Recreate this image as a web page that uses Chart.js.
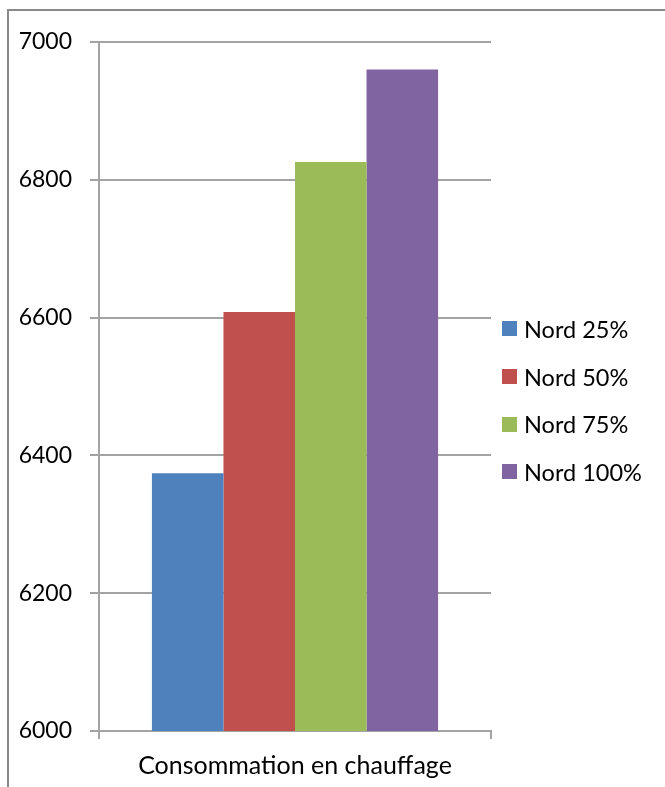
<!DOCTYPE html>
<html>
<head>
<meta charset="utf-8">
<script src="https://cdn.jsdelivr.net/npm/chart.js@4.4.1/dist/chart.umd.min.js"></script>
<style>
    html, body { margin: 0; padding: 0; background: #fff; overflow: hidden; }
    body { width: 665px; height: 787px; position: relative; }
    .frame {
        position: absolute; left: 7px; top: 9px;
        width: 700px; height: 800px;
        border: 2px solid #8a8a8a;
    }
    #chart { position: absolute; left: 0; top: 0; }
    .legend {
        position: absolute; left: 502px; top: 305px;
        margin: 0; padding: 0; list-style: none;
        font-family: Lato, sans-serif; font-size: 23.5px; color: #000;
    }
    .legend li { display: flex; align-items: center; height: 47.7px; }
    .legend span.box { width: 15px; height: 15px; margin-right: 7px; }
</style>
</head>
<body>
<div class="frame"></div>
<canvas id="chart" width="665" height="787"></canvas>
<ul class="legend" id="legend"></ul>
<script>
// Chart data
const categories = ['Consommation en chauffage'];
const seriesLabels = ['Nord 25%', 'Nord 50%', 'Nord 75%', 'Nord 100%'];
const seriesValues = [[6374], [6608], [6826], [6960]];
const seriesColors = ['#4f81bd', '#c0504d', '#9bbb59', '#8064a2'];
const yTicks = [6000, 6200, 6400, 6600, 6800, 7000];

const gridColor = '#a3a3a3';

document.addEventListener('DOMContentLoaded', function() {
    const ctx = document.getElementById('chart').getContext('2d');
    const chart = new Chart(ctx, {
        type: 'bar',
        data: {
            labels: categories,
            datasets: seriesLabels.map((label, i) => ({
                label: label,
                data: seriesValues[i],
                backgroundColor: seriesColors[i],
                borderWidth: 0,
                categoryPercentage: 0.73,
                barPercentage: 1
            }))
        },
        options: {
            responsive: false,
            animation: false,
            layout: {
                padding: { left: 20, top: 42, right: 174, bottom: 0 }
            },
            plugins: {
                legend: { display: false },
                tooltip: { enabled: false }
            },
            scales: {
                x: {
                    afterFit: scale => { scale.height = 56; },
                    grid: {
                        drawOnChartArea: false,
                        tickLength: 8,
                        color: gridColor,
                        lineWidth: 2
                    },
                    border: { color: gridColor, width: 2 },
                    ticks: { color: '#000', font: { family: 'Lato', size: 25 }, padding: 12 }
                },
                y: {
                    min: yTicks[0],
                    max: yTicks[yTicks.length - 1],
                    afterFit: scale => { scale.width = 79; },
                    afterBuildTicks: axis => {
                        axis.ticks = yTicks.map(v => ({ value: v }));
                    },
                    grid: {
                        color: gridColor,
                        lineWidth: 2,
                        tickLength: 9
                    },
                    border: { color: gridColor, width: 2 },
                    ticks: {
                        color: '#000',
                        font: { family: 'Lato', size: 23 },
                        padding: 18,
                        callback: value => String(value)
                    }
                }
            }
        }
    });

    // legend on the right, built from the datasets
    const legend = document.getElementById('legend');
    chart.data.datasets.forEach(ds => {
        const li = document.createElement('li');
        const box = document.createElement('span');
        box.className = 'box';
        box.style.background = ds.backgroundColor;
        li.appendChild(box);
        li.appendChild(document.createTextNode(ds.label));
        legend.appendChild(li);
    });
});
</script>
</body>
</html>
